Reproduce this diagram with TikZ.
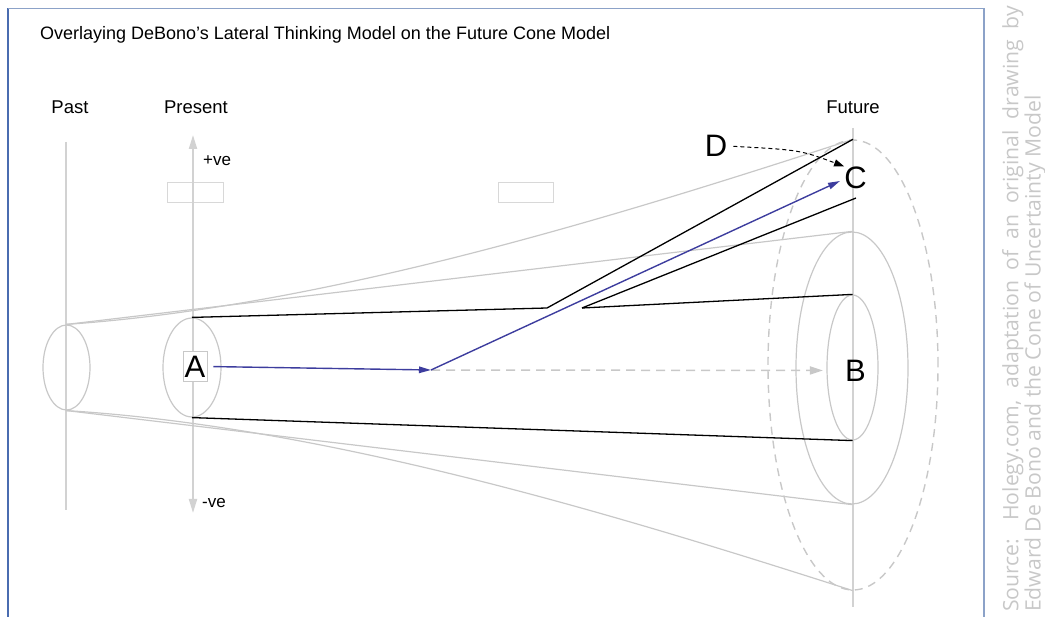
\documentclass[tikz,border=0pt]{standalone}
\usepackage{fontspec}
\setmainfont{Liberation Sans}
\newfontfamily\wmfont{Open Sans}
\usetikzlibrary{arrows.meta,shapes.geometric}
\definecolor{lgray}{HTML}{C8C8C8}
\definecolor{vgray}{HTML}{D2D2D2}
\definecolor{bluel}{HTML}{3D3D9E}
\definecolor{frameL}{HTML}{4A6CB0}
\definecolor{frameT}{HTML}{8CA2C8}
\definecolor{wmgray}{HTML}{C8C8C8}
\definecolor{boxgray}{HTML}{D8D8D8}
\begin{document}
\begin{tikzpicture}[x=1pt,y=-1pt,
  cone/.style={draw=lgray, line width=1.2pt},
  ell/.style={ellipse, draw=lgray, line width=1.2pt, inner sep=0pt},
  blk/.style={draw=black, line width=1.3pt},
  blu/.style={draw=bluel, line width=1.4pt, -{Triangle[length=12pt,width=6.5pt]}},
  axisln/.style={draw=vgray, line width=2pt},
  lbl/.style={font=\fontsize{18.5}{20}\selectfont, inner sep=0pt},
  small/.style={font=\fontsize{17}{19}\selectfont, inner sep=0pt},
  big/.style={font=\fontsize{31}{33}\selectfont, inner sep=0pt},
  emptybox/.style={draw=boxgray, line width=1pt}
]
\useasboundingbox (0,0) rectangle (1045,617);
% frame
\draw[frameL, line width=1.3pt] (8,617) -- (8,8.5);
\draw[frameT, line width=1.3pt] (8,8.5) -- (984,8.5) -- (984,617);
% title
\node[font=\fontsize{18}{20}\selectfont, anchor=west, inner sep=0pt] (title) at (40,35) {Overlaying DeBono’s Lateral Thinking Model on the Future Cone Model};
% labels
\node[lbl] (past) at (70,107) {Past};
\node[lbl] (present) at (196,107) {Present};
\node[lbl] (future) at (853,107) {Future};
% empty boxes
\draw[emptybox] (167,183) rectangle (223,203);
\draw[emptybox] (498,183) rectangle (553,203);
% axes
\coordinate (pastTop) at (66,142);
\coordinate (pastBot) at (66,510);
\coordinate (presTop) at (193,135);
\coordinate (presBot) at (193,513);
\coordinate (futTop) at (853,128);
\coordinate (futBot) at (853,607);
\draw[axisln] (pastTop) -- (pastBot);
\draw[axisln] (futTop) -- (futBot);
\draw[axisln, {Triangle[length=14pt,width=8pt]}-{Triangle[length=14pt,width=8pt]}, color=vgray] (presTop) -- (presBot);
\node[small, anchor=west] (pos) at (203,161) {+ve};
\node[small, anchor=west] (neg) at (202,503) {-ve};
% ellipses
\node[ell, minimum width=47pt, minimum height=85pt] (pastE) at (66.5,367.5) {};
\node[ell, minimum width=58pt, minimum height=99pt] (presE) at (192,367.5) {};
\node[ell, minimum width=112pt, minimum height=272pt] (midE) at (852,368) {};
\node[ell, minimum width=51pt, minimum height=145pt] (innE) at (852.5,367.5) {};
\node[ellipse, draw=lgray, line width=1.4pt, dash pattern=on 8pt off 6pt, inner sep=0pt, minimum width=170pt, minimum height=450pt] (dashE) at (853,365) {};
% cone lines
\draw[cone] (pastE.north) .. controls (330,306) and (620,215) .. (dashE.north);
\draw[cone] (pastE.south) .. controls (330,427) and (620,516) .. (dashE.south);
\draw[cone] (pastE.north) -- (midE.north);
\draw[cone] (pastE.south) -- (midE.south);
% black lines
\coordinate (j1) at (547,308);
\coordinate (j2) at (582,308);
\coordinate (c2end) at (856,198);
\draw[blk] (presE.north) -- (j1) -- (dashE.north);
\draw[blk] (j2) -- (c2end);
\draw[blk] (j2) -- (innE.north);
\draw[blk] (presE.south) -- (innE.south);
% letters
\node[big, draw=lgray, line width=0.8pt, fill=white, minimum width=24pt, minimum height=30pt] (A) at (195,366.5) {A};
\node[big] (B) at (855.5,370.5) {B};
\node[big] (C) at (855.5,177.5) {C};
\node[big] (D) at (716,146) {D};
% arrows
\coordinate (j0) at (431,370);
\coordinate (cTip) at (840,181);
\draw[draw=lgray, line width=1.5pt, dash pattern=on 9pt off 6pt, -{Triangle[length=13pt,width=8pt]}, color=lgray, shorten >=22pt] (j0) -- (B.west);
\draw[blu, shorten <=6pt] (A.east) -- (j0);
\draw[blu] (j0) -- (cTip);
\draw[black, line width=1pt, dash pattern=on 4pt off 3pt, -{Triangle[length=10pt,width=7pt]}, shorten <=6pt] (D.east) .. controls (800,150) .. (C.north west);
% watermark
\node[rotate=90, anchor=north west, inner sep=0pt, align=left, text=wmgray, font=\wmfont\fontsize{21.2}{19.5}\selectfont] (wm) at (1002,612)
 {\makebox[606pt][s]{Source: Holegy.com, adaptation of an original drawing by}\\Edward De Bono and the Cone of Uncertainty Model};
\end{tikzpicture}
\end{document}
